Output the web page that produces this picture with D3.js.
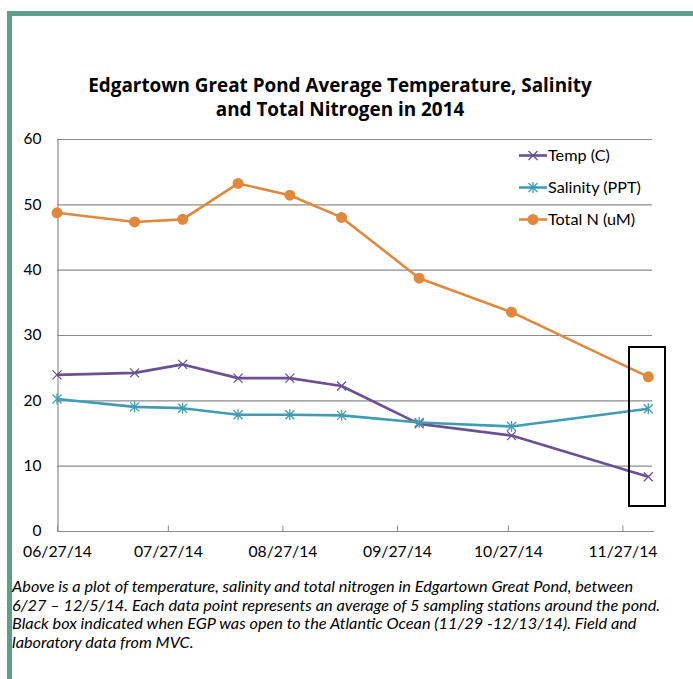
<!DOCTYPE html>
<html>
<head>
<meta charset="utf-8">
<script src="https://cdn.jsdelivr.net/npm/d3@7"></script>
<style>
  body { margin: 0; background: #fff; }
  svg { display: block; }
</style>
</head>
<body>
<div class="chart-content"></div>
<script>
// sampling dates and averages
let sampleDates = ['06/27/14', '07/18/14', '07/31/14', '08/15/14', '08/29/14', '09/12/14', '10/03/14', '10/28/14', '12/04/14'];
let temp = [23.9, 24.2, 25.5, 23.4, 23.4, 22.2, 16.4, 14.6, 8.3];
let salinity = [20.2, 19.0, 18.8, 17.8, 17.8, 17.7, 16.6, 16.0, 18.7];
let totalN = [48.7, 47.3, 47.7, 53.2, 51.4, 48.0, 38.7, 33.5, 23.6];
let seriesNames = ['Temp (C)', 'Salinity (PPT)', 'Total N (uM)'];
let tickLabels = ['06/27/14', '07/27/14', '08/27/14', '09/27/14', '10/27/14', '11/27/14'];
let yTicks = [0, 10, 20, 30, 40, 50, 60];
let titleLines = ['Edgartown Great Pond Average Temperature, Salinity', 'and Total Nitrogen in 2014'];
let captionLines = [
    'Above is a plot of temperature, salinity and total nitrogen in Edgartown Great Pond, between',
    '6/27 \u2013 12/5/14. Each data point represents an average of 5 sampling stations around the pond.',
    'Black box indicated when EGP was open to the Atlantic Ocean (11/29 -12/13/14). Field and',
    'laboratory data from MVC.'
];

let w = 693;
let h = 679;
let font = 'Lato, "Open Sans", sans-serif';
let parse = d3.timeParse('%m/%d/%y');

let svg = d3.select('.chart-content')
    .append('svg')
    .attr('width', w)
    .attr('height', h);

// scale a text group so that one of its nodes has the wanted width (Calibri substitute)
function fit(sel, index, target) {
    let node = sel.nodes()[index];
    let size = parseFloat(d3.select(node).attr('font-size'));
    let len = node.getComputedTextLength();
    sel.attr('font-size', (size * target / len).toFixed(2) + 'px');
}

// green frame
svg.append('rect').attr('x', 7).attr('y', 11).attr('width', w - 7).attr('height', 5).attr('fill', '#5e9f8b');
svg.append('rect').attr('x', 7).attr('y', 11).attr('width', 5).attr('height', h - 11).attr('fill', '#5e9f8b');

let x = d3.scaleTime().domain([parse('06/27/14'), parse('12/05/14')]).range([57, 652]);
let y = d3.scaleLinear().domain([0, 60]).range([531, 139]);

// title
let title = svg.selectAll('.title')
    .data(titleLines)
    .enter()
    .append('text')
    .attr('x', 340)
    .attr('y', function(d, i) {return 92 + i * 24})
    .attr('text-anchor', 'middle')
    .attr('font-family', '"Open Sans", Lato, sans-serif')
    .attr('font-weight', 'bold')
    .attr('font-size', '17px')
    .attr('fill', '#000')
    .text(function(d) {return d});
fit(title, 0, 504);

// horizontal grid
svg.selectAll('.grid')
    .data(yTicks.slice(1))
    .enter()
    .append('line')
    .attr('x1', 57).attr('x2', 652)
    .attr('y1', function(d) {return y(d) + 0.5})
    .attr('y2', function(d) {return y(d) + 0.5})
    .attr('stroke', '#8c8c8c')
    .attr('stroke-width', 1.2);

// y axis
let yAxis = d3.axisLeft(y).tickValues(yTicks).tickSize(0).tickPadding(16);
let gy = svg.append('g').attr('transform', 'translate(57.5,0)').call(yAxis);
gy.select('.domain').attr('stroke', '#8c8c8c').attr('stroke-width', 1.2);
let yText = gy.selectAll('text').attr('font-family', font).attr('font-size', '13px').attr('fill', '#000');
fit(yText, 6, 18);

// x axis, ticks point up into the plot
let tickDates = tickLabels.map(parse);
let xAxis = d3.axisBottom(x).tickValues(tickDates).tickSize(-6).tickSizeOuter(0)
    .tickFormat(function(d, i) {return tickLabels[i]}).tickPadding(14);
let gx = svg.append('g').attr('transform', 'translate(0,531.5)').call(xAxis);
gx.select('.domain').attr('stroke', '#8c8c8c').attr('stroke-width', 1.2).attr('d', 'M57,0H654');
gx.selectAll('line').attr('stroke', '#8c8c8c');
let xText = gx.selectAll('text').attr('font-family', font).attr('font-size', '13px').attr('fill', '#000');
fit(xText, 0, 69);

let series = [
    {name: seriesNames[0], values: temp, color: '#6b5192', marker: 'x'},
    {name: seriesNames[1], values: salinity, color: '#3f9db3', marker: 'star'},
    {name: seriesNames[2], values: totalN, color: '#e0893d', marker: 'circle'}
];

function drawMarker(g, type, color) {
    if (type === 'circle') {
        g.append('circle').attr('r', 5.5).attr('fill', color);
    } else {
        let s = 4.5;
        g.append('path')
            .attr('d', 'M' + (-s) + ',' + (-s) + 'L' + s + ',' + s + 'M' + (-s) + ',' + s + 'L' + s + ',' + (-s)
                + (type === 'star' ? 'M0,' + (-s - 1) + 'V' + (s + 1) : ''))
            .attr('stroke', color)
            .attr('stroke-width', 1.3)
            .attr('fill', 'none');
    }
}

let line = d3.line()
    .x(function(d) {return x(parse(d.date))})
    .y(function(d) {return y(d.v)});

series.forEach(function(s) {
    let pts = s.values.map(function(v, i) {return {date: sampleDates[i], v: v}});
    svg.append('path')
        .datum(pts)
        .attr('d', line)
        .attr('fill', 'none')
        .attr('stroke', s.color)
        .attr('stroke-width', 2.6)
        .attr('stroke-linejoin', 'round');
    svg.selectAll(null)
        .data(pts)
        .enter()
        .append('g')
        .attr('transform', function(d) {return 'translate(' + x(parse(d.date)) + ',' + y(d.v) + ')'})
        .each(function() {drawMarker(d3.select(this), s.marker, s.color)});
});

// legend
let legend = svg.selectAll('.legend')
    .data(series)
    .enter()
    .append('g')
    .attr('transform', function(d, i) {return 'translate(519,' + (155.5 + i * 32) + ')'});
legend.append('line')
    .attr('x1', 0).attr('x2', 28)
    .attr('stroke', function(d) {return d.color})
    .attr('stroke-width', 2.6);
legend.each(function(d) {
    let m = d3.select(this).append('g').attr('transform', 'translate(14,0)');
    drawMarker(m, d.marker, d.color);
});
let legendText = legend.append('text')
    .attr('x', 29)
    .attr('y', 5)
    .attr('font-family', font)
    .attr('font-size', '13.5px')
    .attr('fill', '#000')
    .text(function(d) {return d.name});
fit(legendText, 1, 93);

// black box: period when the pond was open to the ocean
svg.append('rect')
    .attr('x', 629).attr('y', 347)
    .attr('width', 36).attr('height', 159)
    .attr('fill', 'none')
    .attr('stroke', '#000')
    .attr('stroke-width', 2);

// caption
let caption = svg.selectAll('.caption')
    .data(captionLines)
    .enter()
    .append('text')
    .attr('x', 12)
    .attr('y', function(d, i) {return 592 + i * 18.7})
    .attr('font-family', font)
    .attr('font-style', 'italic')
    .attr('font-size', '13.5px')
    .attr('fill', '#000')
    .text(function(d) {return d});
fit(caption, 1, 649);
</script>
</body>
</html>
